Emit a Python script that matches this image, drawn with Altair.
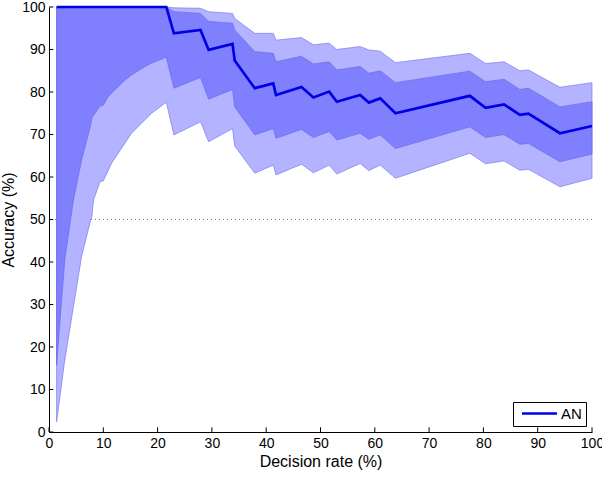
import altair as alt
import pandas as pd

decision_rate = [1.4, 2.9, 4.5, 6.0, 7.6, 7.9, 8.2, 9.4, 10.0, 10.9, 11.5, 14.0, 15.2, 17.7, 18.9, 21.6,
                 23.0, 27.9, 29.4, 33.8, 34.2, 37.9, 41.3, 41.8, 46.5, 48.7, 51.6, 53.0, 57.3, 58.9, 61.0,
                 63.8, 77.5, 80.4, 83.8, 86.7, 88.3, 94.1, 100.0]
light_top = [100] * 16 + [99.8, 99.7, 98.9, 98.5, 97.3, 93.8, 93.8, 92.2, 92.8, 91.1, 91.5, 90.0, 90.7,
                          89.9, 89.6, 86.9, 89.1, 86.7, 87.1, 85.0, 85.2, 81.1, 82.2]
dark_top = [100] * 16 + [98.9, 98.5, 96.6, 96.2, 94.6, 89.5, 89.1, 87.1, 88.4, 86.6, 87.1, 85.2, 86.0,
                         84.4, 85.0, 82.2, 84.9, 82.4, 83.0, 80.6, 80.9, 76.5, 77.7]
mean_acc = [100] * 16 + [93.8, 94.6, 89.9, 91.3, 87.4, 80.9, 82.0, 79.3, 81.2, 78.7, 80.1, 77.7, 79.3,
                         77.5, 78.5, 75.0, 79.1, 76.3, 77.1, 74.6, 74.9, 70.3, 72.0]
dark_bot = [15.8, 40.5, 54.6, 64.0, 71.8, 73.8, 74.5, 76.7, 76.9, 78.9, 79.7, 82.8, 84.0, 86.0, 86.8, 88.2,
            80.9, 83.4, 78.3, 80.6, 76.5, 69.9, 71.4, 69.1, 71.2, 69.3, 70.7, 68.7, 70.3, 68.9, 69.9,
            66.7, 71.8, 69.3, 70.0, 67.7, 67.9, 63.6, 65.4]
light_bot = [2.4, 16.9, 29.5, 41.3, 49.5, 50.7, 54.6, 58.9, 59.1, 61.5, 63.2, 68.0, 70.3, 73.5, 75.0, 77.6,
             69.9, 73.0, 68.3, 71.4, 67.3, 60.9, 62.8, 60.5, 63.0, 61.0, 62.8, 60.7, 63.2, 61.5, 62.8,
             59.7, 65.6, 63.1, 63.8, 61.6, 61.8, 57.7, 59.7]
series_name = ["AN"]
x_ticks = [0, 10, 20, 30, 40, 50, 60, 70, 80, 90, 100]
y_ticks = [0, 10, 20, 30, 40, 50, 60, 70, 80, 90, 100]
chance_level = [50]

df = pd.DataFrame({
    "rate": decision_rate, "light_top": light_top, "dark_top": dark_top, "mean": mean_acc,
    "dark_bot": dark_bot, "light_bot": light_bot, "series": series_name[0]
})
xt = pd.DataFrame({"rate": x_ticks})
yt = pd.DataFrame({"acc": y_ticks})
ch = pd.DataFrame({"acc": chance_level})

XT = "Decision rate (%)"
YT = "Accuracy (%)"
xs = alt.Scale(domain=[0, 100], nice=False, zero=False)
ys = alt.Scale(domain=[0, 100], nice=False, zero=False)
xax = alt.Axis(values=x_ticks, labelFlush=False, titlePadding=3)
yax = alt.Axis(values=y_ticks, labelFlush=False, titlePadding=5)

def X(field):
    return alt.X(f"{field}:Q", scale=xs, axis=xax, title=XT)

def Y(field):
    return alt.Y(f"{field}:Q", scale=ys, axis=yax, title=YT)

chance = alt.Chart(ch).mark_rule(color="#808080", strokeDash=[1, 3], strokeWidth=1).encode(
    y=Y("acc"))

light_band = alt.Chart(df).mark_area(color="#b3b3ff", stroke="#7a7af0", strokeWidth=0.7,
                                     opacity=1).encode(
    x=X("rate"), y=Y("light_bot"), y2="light_top")

dark_band = alt.Chart(df).mark_area(color="#8080ff", stroke="#6a6ae6", strokeWidth=0.7,
                                    opacity=1).encode(
    x=X("rate"), y=Y("dark_bot"), y2="dark_top")

line = alt.Chart(df).mark_line(strokeWidth=2.7).encode(
    x=X("rate"), y=Y("mean"),
    color=alt.Color("series:N", scale=alt.Scale(domain=series_name, range=["#0000e6"]),
                    legend=alt.Legend(title=None, orient="bottom-right", offset=6,
                                      strokeColor="black", fillColor="white", padding=4,
                                      symbolType="M-3.5,0L3.5,0", symbolSize=100,
                                      symbolOffset=15, symbolStrokeWidth=2.7,
                                      labelFontSize=15, labelFont="Liberation Sans",
                                      labelColor="black", labelOffset=14)))

xtick_layer = alt.Chart(xt).mark_rule(color="black", strokeWidth=1).encode(
    x=X("rate"), y=alt.datum(0), y2=alt.datum(1.1))
ytick_layer = alt.Chart(yt).mark_rule(color="black", strokeWidth=1).encode(
    y=Y("acc"), x=alt.datum(0), x2=alt.datum(0.8))

chart = alt.layer(chance, light_band, dark_band, line, xtick_layer, ytick_layer).properties(
    width=543, height=425,
    autosize=alt.AutoSizeParams(type="none"),
    padding={"left": 49, "top": 7, "right": 10, "bottom": 46},
).configure_view(stroke=None).configure_axis(
    grid=False, ticks=False, domainColor="black", domainWidth=1,
    labelFont="Liberation Sans", labelFontSize=14, labelColor="black", labelPadding=4,
    titleFont="Liberation Sans", titleFontSize=16, titleFontWeight="normal", titleColor="black",
)

chart.save("out.html", embed_options={"renderer": "svg", "actions": False})
